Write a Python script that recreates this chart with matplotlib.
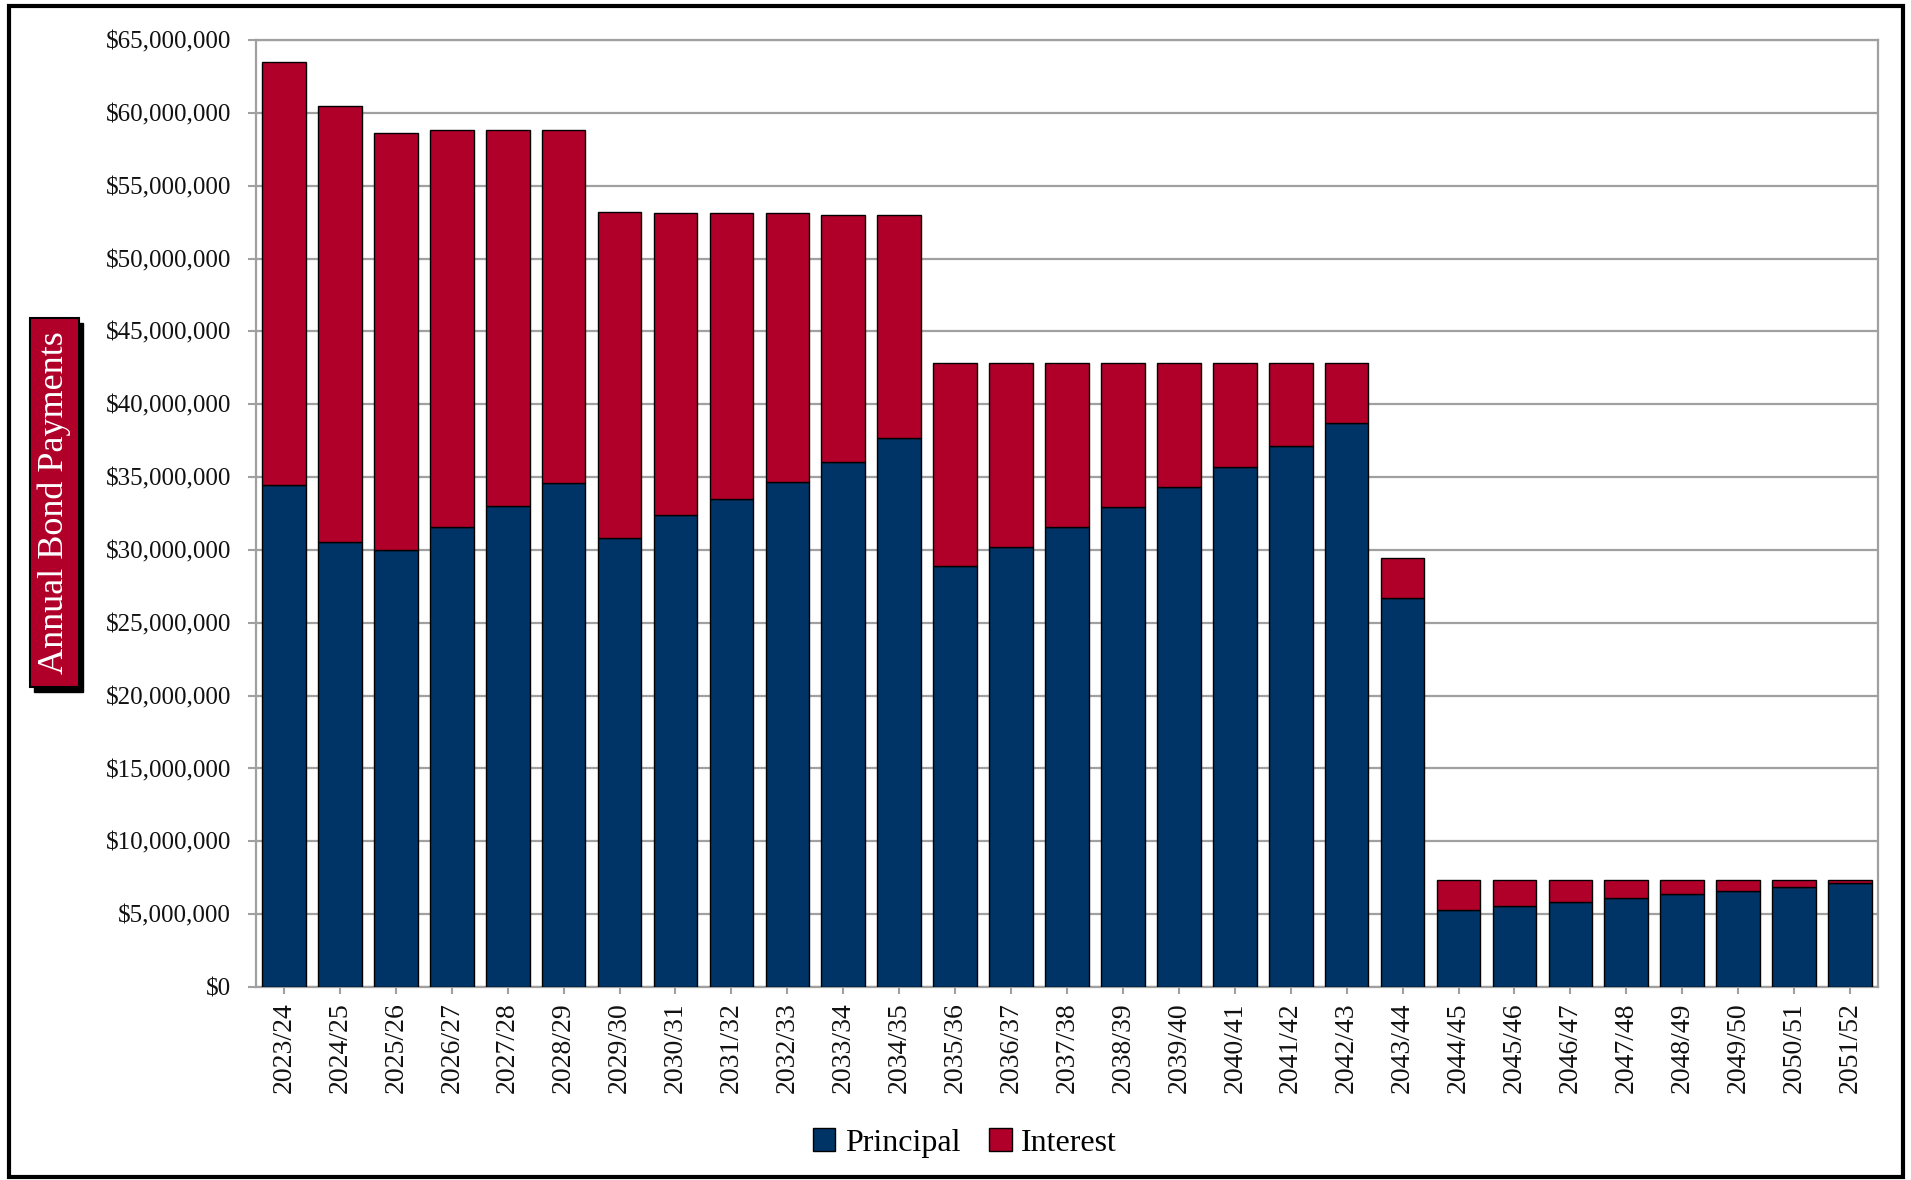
import matplotlib
matplotlib.use("Agg")
import matplotlib.pyplot as plt
from matplotlib.patches import Rectangle
from matplotlib.ticker import FuncFormatter, MultipleLocator
import numpy as np

plt.rcParams['font.family'] = ['Liberation Serif', 'DejaVu Serif']

years = ["2023/24", "2024/25", "2025/26", "2026/27", "2027/28", "2028/29", "2029/30",
         "2030/31", "2031/32", "2032/33", "2033/34", "2034/35", "2035/36", "2036/37",
         "2037/38", "2038/39", "2039/40", "2040/41", "2041/42", "2042/43", "2043/44",
         "2044/45", "2045/46", "2046/47", "2047/48", "2048/49", "2049/50", "2050/51",
         "2051/52"]

# values in millions of dollars
principal_m = [34.49, 30.52, 30.00, 31.59, 33.04, 34.61, 30.83, 32.40, 33.48, 34.68,
               36.01, 37.67, 28.90, 30.21, 31.58, 32.95, 34.33, 35.72, 37.16, 38.72,
               26.72, 5.28, 5.55, 5.83, 6.11, 6.36, 6.62, 6.89, 7.17]
interest_m = [28.99, 29.97, 28.65, 27.21, 25.76, 24.19, 22.36, 20.74, 19.64, 18.44,
              16.98, 15.32, 13.90, 12.59, 11.22, 9.85, 8.47, 7.08, 5.64, 4.08,
              2.75, 2.05, 1.78, 1.50, 1.22, 0.97, 0.71, 0.44, 0.16]

principal = np.array(principal_m) * 1e6
interest = np.array(interest_m) * 1e6

NAVY = "#003366"
RED = "#B0002A"
GRID = "#a0a0a0"

W, H = 1911, 1180
fig = plt.figure(figsize=(W / 100, H / 100), dpi=100)
ax = fig.add_axes([256 / W, 1 - 987 / H, (1878 - 256) / W, (987 - 40) / H])

x = np.arange(len(years))
ax.bar(x, principal, width=0.78, color=NAVY, edgecolor="black", linewidth=1.0,
       label="Principal", zorder=3)
ax.bar(x, interest, bottom=principal, width=0.78, color=RED, edgecolor="black",
       linewidth=1.0, label="Interest", zorder=3)

ax.set_xlim(-0.5, len(years) - 0.5)
ax.set_ylim(0, 65e6)
ax.yaxis.set_major_locator(MultipleLocator(5e6))
ax.yaxis.set_major_formatter(FuncFormatter(lambda v, p: f"${v:,.0f}"))
ax.set_xticks(x)
ax.set_xticklabels(years, rotation=90, fontsize=20)
ax.tick_params(axis="y", labelsize=18, length=6, width=1.5, color=GRID, pad=12,
               labelcolor="#111111")
ax.tick_params(axis="x", length=5, width=1.5, color=GRID, pad=6, labelcolor="#111111")
ax.grid(axis="y", color=GRID, linewidth=1.6, zorder=0)
ax.set_axisbelow(True)
for s in ax.spines.values():
    s.set_color(GRID)
    s.set_linewidth(1.6)

leg = fig.legend(loc="center", bbox_to_anchor=(0.505, 1 - 1143 / H), ncol=2,
                 frameon=False, fontsize=23, handlelength=0.7, handleheight=0.7,
                 handletextpad=0.3, columnspacing=0.9)

# outer frame
fig.add_artist(Rectangle((9 / W, 1 - 1177 / H), (1903 - 9) / W, (1177 - 6) / H,
                         transform=fig.transFigure, fill=False, edgecolor="black",
                         linewidth=3))

# y-axis label box with shadow
bx0, bx1, by0, by1 = 30, 79, 318, 687
fig.add_artist(Rectangle(((bx0 + 4) / W, 1 - (by1 + 5) / H), (bx1 - bx0) / W,
                         (by1 - by0) / H, transform=fig.transFigure,
                         facecolor="black", edgecolor="black", linewidth=1))
fig.add_artist(Rectangle((bx0 / W, 1 - by1 / H), (bx1 - bx0) / W, (by1 - by0) / H,
                         transform=fig.transFigure, facecolor=RED,
                         edgecolor="black", linewidth=1.5))
fig.text((bx0 + bx1) / 2 / W, 1 - (by0 + by1) / 2 / H, "Annual Bond Payments",
         rotation=90, ha="center", va="center", color="white", fontsize=26)

fig.savefig("out.png", dpi=100)
